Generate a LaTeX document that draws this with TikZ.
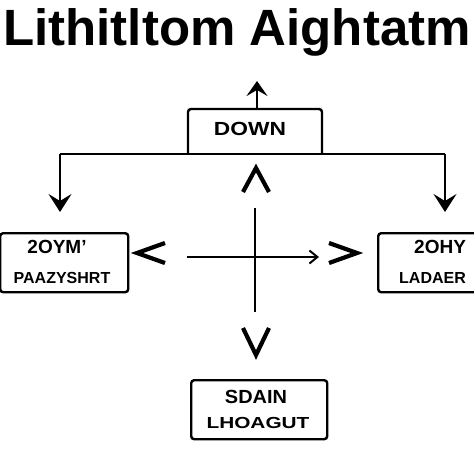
\documentclass[tikz,border=0pt]{standalone}
\usepackage{fontspec}
\setmainfont{Liberation Sans}
\usetikzlibrary{arrows.meta}
\begin{document}
\begin{tikzpicture}[x=1pt,y=-1pt,
  box/.style={draw,line width=2.4pt,rounded corners=3pt,inner sep=0pt},
  conn/.style={line width=2.2pt},
  chev/.style={line width=4.2pt,line cap=butt,line join=miter},
  lbl/.style={inner sep=0pt,anchor=base}]
\useasboundingbox (0,0) rectangle (474,474);
\fill[white] (0,0) rectangle (474,474);
\node[font=\bfseries\fontsize{51}{51}\selectfont,anchor=base,inner sep=0pt,xscale=1.0] (title) at (237,45) {Lithitltom Aightatm};
% top box
\draw[box] (188,154) |- (322,109) -- (322,154);
\node[lbl,font=\bfseries\fontsize{19}{19}\selectfont,xscale=1.2] (tlabel) at (250,135) {DOWN};
\coordinate (topc) at (257,109);
\coordinate (tip) at (257,81);
\draw[conn,-{Stealth[length=15pt,width=21pt,inset=6pt]}] (topc) -- (tip);
% horizontal line and side arrows
\coordinate (hl) at (60,154);
\coordinate (hr) at (445,154);
\coordinate (al) at (60,212);
\coordinate (ar) at (445,212);
\draw[conn] (hl) -- (hr);
\draw[conn,-{Stealth[length=18pt,width=23pt,inset=7pt]}] (hl) -- (al);
\draw[conn,-{Stealth[length=18pt,width=23pt,inset=7pt]}] (hr) -- (ar);
% left box
\node[box,minimum width=128pt,minimum height=59pt,anchor=north west] (lbox) at (-1,232) {};
\node[lbl,font=\bfseries\fontsize{19}{19}\selectfont] (l1) at (57,253) {2OYM'};
\node[lbl,font=\bfseries\fontsize{16}{16}\selectfont] (l2) at (62,283) {PAAZYSHRT};
% right box
\node[box,minimum width=110pt,minimum height=59pt,anchor=north west] (rbox) at (377,232) {};
\node[lbl,font=\bfseries\fontsize{19}{19}\selectfont,anchor=base west] (r1) at (414,253) {2OHY};
\node[lbl,font=\bfseries\fontsize{16}{16}\selectfont,anchor=base west] (r2) at (399,283) {LADAER};
% bottom box
\node[box,minimum width=136pt,minimum height=59pt,anchor=north west] (bbox) at (190,379) {};
\node[lbl,font=\bfseries\fontsize{19}{19}\selectfont,xscale=1.05] (b1) at (256,403) {SDAIN};
\node[lbl,font=\bfseries\fontsize{16}{16}\selectfont,xscale=1.3] (b2) at (258,428) {LHOAGUT};
% cross
\coordinate (vt) at (255,208);
\coordinate (vb) at (255,312);
\coordinate (hL) at (187,257);
\coordinate (hR) at (319,257);
\draw[conn] (vt) -- (vb);
\draw[conn,-{Straight Barb[length=8pt,width=13pt,line width=2pt]}] (hL) -- (hR);
% chevrons
\draw[chev] (243,192) -- (256,168) -- (269,192);
\draw[chev] (243,328) -- (256,355) -- (269,328);
\draw[chev] (165,243) -- (137,253) -- (165,263);
\draw[chev] (329,243) -- (357,253) -- (329,263);
\end{tikzpicture}
\end{document}
